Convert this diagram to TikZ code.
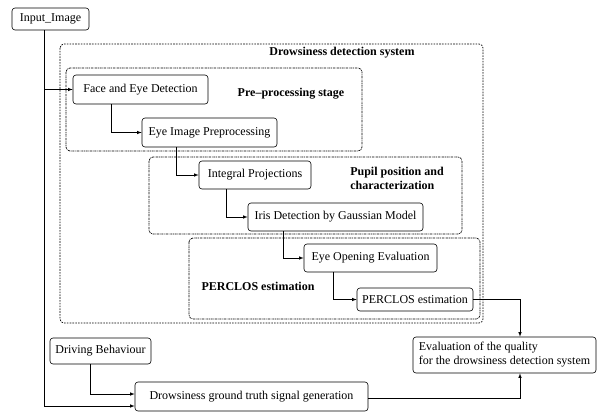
\documentclass[tikz,border=0pt]{standalone}
\usepackage{fontspec}
\setmainfont{Liberation Serif}
\usepackage{tikz}
\usetikzlibrary{arrows,backgrounds,calc}

\tikzset{
  stagebox/.style={draw=black, line width=0.6pt, rounded corners=3pt, inner sep=0pt, align=center,
    font=\fontsize{12}{14}\selectfont},
  outerframe/.style={draw=black, line width=0.7pt, rounded corners=4pt, dash pattern=on 1.6pt off 1.2pt},
  innerframe/.style={draw=black, line width=0.7pt, rounded corners=4pt, dash pattern=on 2pt off 0.8pt on 0.8pt off 0.8pt},
  framelabel/.style={font=\fontsize{12}{14}\selectfont\bfseries, inner sep=0pt},
  flow/.style={black, line width=0.6pt, -latex}
}

\begin{document}
\begin{tikzpicture}[x=1pt,y=-1pt]
\useasboundingbox (0,0) rectangle (597,413);
% frames
\draw[outerframe] (60,44) rectangle (483,323);
\draw[innerframe] (66,68) rectangle (362,151);
\draw[innerframe] (149,157) rectangle (462,234);
\draw[innerframe] (189,238) rectangle (480,319);
\node[framelabel] (lsystem) at (342,53) {Drowsiness detection system};
\node[framelabel] (lpre) at (291,94) {Pre--processing stage};
\node[framelabel, align=left] (lpupil) at (397,178.5) {Pupil position and\\characterization};
\node[framelabel] (lperclos) at (258,286) {PERCLOS estimation};
% blocks
\node[stagebox, minimum width=77pt, minimum height=22pt] (inimg) at (50.5,19) {Input\_Image};
\node[stagebox, minimum width=135pt, minimum height=29pt] (face) at (140.5,89.5) {Face and Eye Detection};
\node[stagebox, minimum width=135pt, minimum height=29pt] (eyepre) at (209.5,132.5) {Eye Image Preprocessing};
\node[stagebox, minimum width=112pt, minimum height=28pt] (integ) at (255,175) {Integral Projections};
\node[stagebox, minimum width=175pt, minimum height=28pt] (iris) at (335.5,217) {Iris Detection by Gaussian Model};
\node[stagebox, minimum width=133pt, minimum height=28pt] (eyeopen) at (370.5,258) {Eye Opening Evaluation};
\node[stagebox, minimum width=116pt, minimum height=23pt] (perclos) at (415,299.5) {PERCLOS estimation};
\node[stagebox, minimum width=183pt, minimum height=36pt, align=left] (eval) at (504.5,355) {Evaluation of the quality\\for the drowsiness detection system};
\node[stagebox, minimum width=101pt, minimum height=26pt] (driving) at (100.5,351) {Driving Behaviour};
\node[stagebox, minimum width=233pt, minimum height=29pt] (truth) at (251.5,396.5) {Drowsiness ground truth signal generation};
% connectors
\coordinate (trunk) at ([xshift=-6.5pt]inimg.south);
\draw[flow] (trunk) |- ([yshift=-9.5pt]truth.west);
\draw[flow] (trunk |- face.west) -- (face.west);
\draw[flow] ([xshift=-29.5pt]face.south) |- (eyepre.west);
\draw[flow] ([xshift=-33.5pt]eyepre.south) |- (integ.west);
\draw[flow] ([xshift=-29pt]integ.south) |- (iris.west);
\draw[flow] ([xshift=-52.5pt]iris.south) |- (eyeopen.west);
\draw[flow] ([xshift=-37.5pt]eyeopen.south) |- (perclos.west);
\draw[flow] (perclos.east) -| ([xshift=15.5pt]eval.north);
\draw[flow] ([xshift=-10.5pt]driving.south) |- ([yshift=2.5pt]truth.west);
\draw[flow] ([yshift=-1.5pt]truth.east) -| ([xshift=15.5pt]eval.south);
\end{tikzpicture}
\end{document}
